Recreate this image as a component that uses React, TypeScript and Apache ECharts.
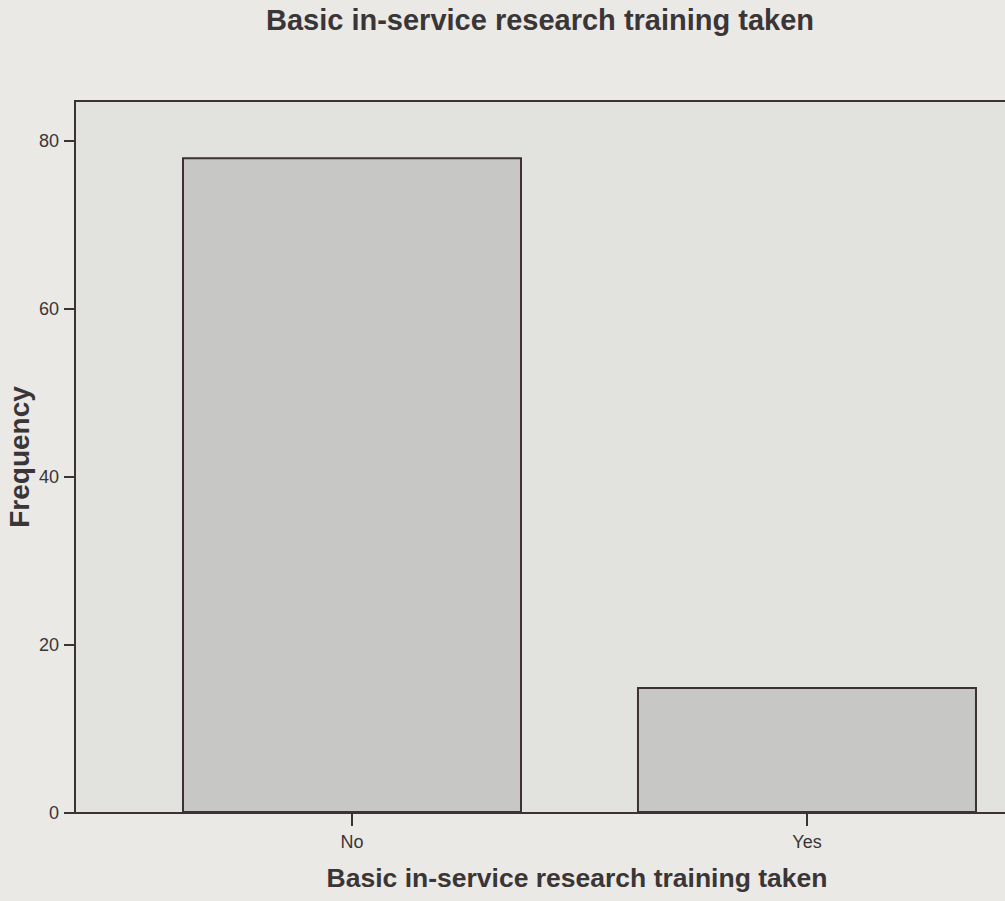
import React, { useEffect, useRef } from "react";
import * as echarts from "echarts";

const categories = ["No", "Yes"];
const frequencies = [78, 15];
const yTicks = [0, 20, 40, 60, 80];

const LINE = "#3a3234";
const TEXT = "#3a3536";
const FONT = "Liberation Sans, Arial, sans-serif";

export default function App() {
  const ref = useRef<HTMLDivElement>(null);
  useEffect(() => {
    if (!ref.current) return;
    const chart = echarts.init(ref.current, undefined, { renderer: "svg" });
    const catPos = categories.map((_, i) => i);
    chart.setOption({
      animation: false,
      backgroundColor: "#eae9e5",
      title: [
        {
          text: "Basic in-service research training taken",
          left: 535,
          top: 0,
          textAlign: "center",
          textStyle: { fontFamily: FONT, fontWeight: "bold", fontSize: 29, color: TEXT },
        },
        {
          text: "Basic in-service research training taken",
          left: 572,
          top: 859,
          textAlign: "center",
          textStyle: { fontFamily: FONT, fontWeight: "bold", fontSize: 26.5, color: TEXT },
        },
      ],
      grid: {
        left: 75,
        right: -3,
        top: 101,
        bottom: 88,
        outerBoundsMode: "none",
        containLabel: false,
        show: true,
        backgroundColor: "#e2e2de",
        borderColor: LINE,
        borderWidth: 2,
      },
      xAxis: {
        type: "value",
        min: -0.6088,
        max: 1.4418,
        splitLine: { show: false },
        axisLine: { show: true, onZero: false, lineStyle: { color: LINE, width: 2 } },
        axisTick: {
          show: true,
          customValues: catPos,
          length: 13,
          inside: false,
          lineStyle: { color: LINE, width: 2 },
        },
        axisLabel: {
          customValues: catPos,
          formatter: (v: number) => categories[Math.round(v)] ?? "",
          margin: 20,
          fontFamily: FONT,
          fontSize: 18,
          color: TEXT,
        },
      },
      yAxis: {
        type: "value",
        min: 0,
        max: 84.7,
        interval: 20,
        name: "Frequency",
        nameLocation: "middle",
        nameGap: 42,
        nameMoveOverlap: false,
        nameTextStyle: { fontFamily: FONT, fontWeight: "bold", fontSize: 28, color: TEXT },
        splitLine: { show: false },
        axisLine: { show: true, onZero: false, lineStyle: { color: LINE, width: 2 } },
        axisTick: { show: true, length: 11, customValues: yTicks, lineStyle: { color: LINE, width: 2 } },
        axisLabel: {
          margin: 16,
          fontFamily: FONT,
          fontSize: 18,
          color: TEXT,
          customValues: yTicks,
        },
      },
      series: [
        {
          type: "bar",
          data: frequencies.map((v, i) => [catPos[i], v]),
          barWidth: 340,
          itemStyle: { color: "#c7c8c6", borderColor: LINE, borderWidth: 2 },
        },
      ],
    });
    return () => chart.dispose();
  }, []);
  return (
    <div
      ref={ref}
      style={{ position: "fixed", left: 0, top: 0, width: 1005, height: 901 }}
    />
  );
}
